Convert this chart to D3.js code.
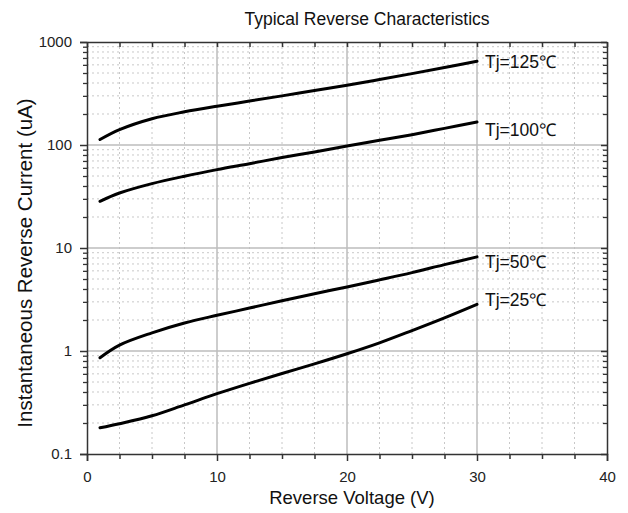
<!DOCTYPE html>
<html>
<head>
<meta charset="utf-8">
<script src="https://cdn.jsdelivr.net/npm/d3@7"></script>
<style>
  html, body { margin: 0; padding: 0; background: #fff; }
  svg { display: block; font-family: "Liberation Sans", Arial, sans-serif; }
</style>
</head>
<body>
<svg id="chart" width="628" height="513"></svg>
<script>
// ---- data ----
const voltages = [1, 2.5, 5, 7.5, 10, 12.5, 15, 17.5, 20, 22.5, 25, 27.5, 30];
const tj125 = [113, 141, 180, 210, 238, 267, 300, 338, 380, 432, 493, 565, 650];
const tj100 = [28.4, 34.2, 42.2, 49.8, 57.7, 65.9, 75.5, 85.5, 98, 111, 126, 145, 167];
const tj50  = [0.86, 1.14, 1.5, 1.87, 2.22, 2.61, 3.08, 3.6, 4.18, 4.9, 5.77, 6.9, 8.2];
const tj25  = [0.18, 0.197, 0.235, 0.3, 0.385, 0.485, 0.605, 0.75, 0.94, 1.2, 1.58, 2.1, 2.84];
const seriesNames = ["Tj=125℃", "Tj=100℃", "Tj=50℃", "Tj=25℃"];
const seriesValues = [tj125, tj100, tj50, tj25];
const xTicks = [0, 10, 20, 30, 40];
const yTicks = [0.1, 1, 10, 100, 1000];
const yTickLabels = ["0.1", "1", "10", "100", "1000"];
const titleText = "Typical Reverse Characteristics";
const xTitle = "Reverse Voltage (V)";
const yTitle = "Instantaneous Reverse Current (uA)";

// ---- layout ----
const L = 87, R = 607, T = 42, B = 454;
const svg = d3.select("#chart");
const x = d3.scaleLinear().domain([0, 40]).range([L, R]);
const y = d3.scaleLog().domain([0.1, 1000]).range([B, T]);

// minor values
const xMinor = d3.range(0, 40.01, 2.5);
const yMinor = [];
[0.1, 1, 10, 100].forEach(d => { for (let k = 2; k <= 9; k++) yMinor.push(d * k); });

// minor grid (dotted)
const grid = svg.append("g");
grid.selectAll(".xm").data(xMinor.filter(v => v % 10 !== 0)).join("line")
  .attr("class", "xm")
  .attr("x1", d => x(d)).attr("x2", d => x(d)).attr("y1", T).attr("y2", B)
  .attr("stroke", "#c8c8c8").attr("stroke-width", 1).attr("stroke-dasharray", "2,3");
grid.selectAll(".ym").data(yMinor).join("line")
  .attr("class", "ym")
  .attr("x1", L).attr("x2", R).attr("y1", d => y(d)).attr("y2", d => y(d))
  .attr("stroke", "#c8c8c8").attr("stroke-width", 1).attr("stroke-dasharray", "2,3");
// major grid (solid)
grid.selectAll(".xM").data(xTicks.slice(1, -1)).join("line")
  .attr("class", "xM")
  .attr("x1", d => x(d)).attr("x2", d => x(d)).attr("y1", T).attr("y2", B)
  .attr("stroke", "#bdbdbd").attr("stroke-width", 1.5);
grid.selectAll(".yM").data(yTicks.slice(1, -1)).join("line")
  .attr("class", "yM")
  .attr("x1", L).attr("x2", R).attr("y1", d => y(d)).attr("y2", d => y(d))
  .attr("stroke", "#bdbdbd").attr("stroke-width", 1.5);

// curves
const line = d3.line().x((d, i) => x(voltages[i])).y(d => y(d)).curve(d3.curveCatmullRom.alpha(0.5));
svg.append("g").selectAll("path").data(seriesValues).join("path")
  .attr("d", d => line(d))
  .attr("fill", "none").attr("stroke", "#000").attr("stroke-width", 3)
  .attr("stroke-linecap", "round");

// series labels
svg.append("g").selectAll("text").data(seriesValues).join("text")
  .attr("x", x(30) + 8)
  .attr("y", (d, i) => y(d[d.length - 1]) + [1, 8, 5, -4][i])
  .attr("dy", "0.35em")
  .attr("font-size", 17.5).attr("fill", "#111")
  .text((d, i) => seriesNames[i]);

// axes
const axisColor = "#333";
function styleAxis(g) {
  g.select(".domain").attr("stroke", axisColor).attr("stroke-width", 1.5);
  g.selectAll(".tick line").attr("stroke", axisColor).attr("stroke-width", 1.5);
}
// bottom
const xAxis = svg.append("g").attr("transform", `translate(0,${B})`)
  .call(d3.axisBottom(x).tickValues(xTicks).tickSize(7).tickPadding(10).tickFormat(d3.format("d")));
styleAxis(xAxis);
xAxis.selectAll("text").attr("font-size", 15).attr("fill", "#222").attr("font-family", "Liberation Sans, Arial, sans-serif");
svg.append("g").attr("transform", `translate(0,${B})`)
  .call(d3.axisBottom(x).tickValues(xMinor.filter(v => v % 10 !== 0)).tickSize(5).tickFormat(""))
  .call(g => { g.select(".domain").remove(); g.selectAll(".tick line").attr("stroke", axisColor).attr("stroke-width", 1.5); });
// top (inward)
svg.append("g").attr("transform", `translate(0,${T})`)
  .call(d3.axisBottom(x).tickValues(xMinor).tickSize(5).tickFormat("").tickSizeOuter(0))
  .call(styleAxis);
// left
const yAxis = svg.append("g").attr("transform", `translate(${L},0)`)
  .call(d3.axisLeft(y).tickValues(yTicks).tickSize(7).tickPadding(8).tickFormat((d, i) => yTickLabels[i]));
styleAxis(yAxis);
yAxis.selectAll("text").attr("font-size", 15).attr("fill", "#222").attr("font-family", "Liberation Sans, Arial, sans-serif");
svg.append("g").attr("transform", `translate(${L},0)`)
  .call(d3.axisLeft(y).tickValues(yMinor).tickSize(4).tickFormat(""))
  .call(g => { g.select(".domain").remove(); g.selectAll(".tick line").attr("stroke", axisColor).attr("stroke-width", 1.3); });
// right (inward)
svg.append("g").attr("transform", `translate(${R},0)`)
  .call(d3.axisLeft(y).tickValues(yTicks).tickSize(0).tickFormat("").tickSizeOuter(0))
  .call(styleAxis);
svg.append("g").attr("transform", `translate(${R},0)`)
  .call(d3.axisRight(y).tickValues(yMinor).tickSize(-4).tickFormat(""))
  .call(g => { g.select(".domain").remove(); g.selectAll(".tick line").attr("stroke", axisColor).attr("stroke-width", 1.3); });
svg.append("g").attr("transform", `translate(${R},0)`)
  .call(d3.axisRight(y).tickValues(yTicks).tickSize(-6).tickFormat(""))
  .call(g => { g.select(".domain").remove(); g.selectAll(".tick line").attr("stroke", axisColor).attr("stroke-width", 1.5); });

// titles
svg.append("text").attr("x", 367).attr("y", 25).attr("text-anchor", "middle")
  .attr("font-size", 17.5).attr("fill", "#111").text(titleText);
svg.append("text").attr("x", 352).attr("y", 504).attr("text-anchor", "middle")
  .attr("font-size", 18.5).attr("fill", "#111").text(xTitle);
svg.append("text").attr("transform", `translate(32,263) rotate(-90)`).attr("text-anchor", "middle")
  .attr("font-size", 20.5).attr("fill", "#111").text(yTitle);
</script>
</body>
</html>
